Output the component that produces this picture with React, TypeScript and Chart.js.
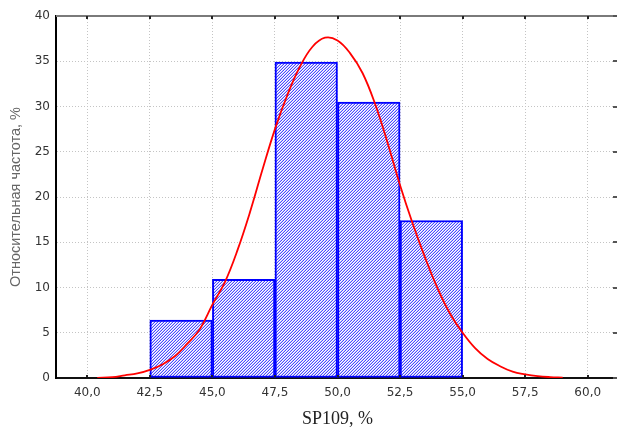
import React, { useEffect, useRef } from "react";
import { Chart, registerables } from "chart.js";

Chart.register(...registerables);

// Histogram bins (centers of 2.5-wide classes) and relative frequencies, %
const binCenters = [43.75, 46.25, 48.75, 51.25, 53.75];
const frequencies = [6.4, 10.9, 34.9, 30.5, 17.4];

// Fitted normal curve
const curveX = [40.4, 41.0, 41.5, 42.0, 42.5, 43.0, 43.5, 44.0, 44.5, 45.0, 45.5, 46.0, 46.5, 47.0, 47.5, 48.0, 48.5, 49.0, 49.5, 50.0, 50.5, 51.0, 51.5, 52.0, 52.5, 53.0, 53.5, 54.0, 54.5, 55.0, 55.5, 56.0, 56.5, 57.0, 57.5, 58.0, 58.5, 59.0];
const curveY = [0.02, 0.1, 0.3, 0.5, 0.9, 1.5, 2.4, 3.8, 5.4, 8.1, 10.6, 14.1, 18.3, 23.0, 27.5, 31.3, 34.4, 36.6, 37.6, 37.3, 35.9, 33.7, 30.3, 26.0, 21.3, 17.1, 13.3, 9.9, 7.1, 5.0, 3.3, 2.1, 1.3, 0.7, 0.4, 0.2, 0.1, 0.05];

// Axis ticks
const xTicks = [40, 42.5, 45, 47.5, 50, 52.5, 55, 57.5, 60];
const yTicks = [0, 5, 10, 15, 20, 25, 30, 35, 40];

const xTitle = "SP109, %";
const yTitle = "Относительная частота, %";

function makeHatch(): CanvasPattern | string {
  const c = document.createElement("canvas");
  c.width = 3;
  c.height = 3;
  const g = c.getContext("2d");
  if (!g) return "#9a9aff";
  for (let y = 0; y < 3; y++) {
    for (let x = 0; x < 3; x++) {
      const k = (x + y) % 3;
      g.fillStyle = k === 2 ? "#4a4aff" : k === 1 ? "#c4c4ff" : "#ffffff";
      g.fillRect(x, y, 1, 1);
    }
  }
  return g.createPattern(c, "repeat") || "#9a9aff";
}

const framePlugin = {
  id: "frame",
  afterDraw(chart: any) {
    const { ctx, chartArea, scales } = chart;
    const xs = scales.x;
    const ys = scales.y;
    ctx.save();
    // top border
    ctx.strokeStyle = "#7a7a7a";
    ctx.lineWidth = 2;
    ctx.beginPath();
    ctx.moveTo(chartArea.left, chartArea.top);
    ctx.lineTo(chartArea.right, chartArea.top);
    ctx.stroke();
    // inward tick marks
    ctx.fillStyle = "#222";
    for (const v of xTicks) {
      const px = Math.round(xs.getPixelForValue(v));
      ctx.fillRect(px - 1, chartArea.top, 2, 3);
      ctx.fillRect(px - 1, chartArea.bottom - 3, 2, 2);
    }
    ctx.fillStyle = "#555";
    for (const v of yTicks) {
      const py = Math.round(ys.getPixelForValue(v));
      ctx.fillRect(613, py - 1, 4, 2);
    }
    ctx.restore();
  },
};

export default function App() {
  const ref = useRef<HTMLCanvasElement | null>(null);

  useEffect(() => {
    if (!ref.current) return;
    const hatch = makeHatch();
    const tickFont = { family: "'DejaVu Sans', Verdana, sans-serif", size: 12 };
    const chart = new Chart(ref.current, {
      type: "bar",
      data: {
        datasets: [
          {
            type: "line",
            data: curveX.map((x, i) => ({ x, y: curveY[i] })),
            borderColor: "#ff0000",
            borderWidth: 1.8,
            pointRadius: 0,
            tension: 0.4,
            fill: false,
            order: 0,
          } as any,
          {
            type: "bar",
            data: binCenters.map((x, i) => ({ x, y: frequencies[i] })),
            backgroundColor: hatch as any,
            borderColor: "#0000ff",
            borderWidth: 2,
            borderSkipped: false,
            barPercentage: 1,
            categoryPercentage: 1,
            order: 1,
          } as any,
        ],
      },
      options: {
        animation: false,
        responsive: false,
        maintainAspectRatio: false,
        layout: { padding: { top: 16, left: 0, right: 0, bottom: 0 } },
        plugins: {
          legend: { display: false },
          tooltip: { enabled: false },
        },
        scales: {
          x: {
            type: "linear",
            min: 38.75,
            max: 61.25,
            offset: false,
            afterBuildTicks: (scale: any) => {
              scale.ticks = xTicks.map((v) => ({ value: v }));
            },
            afterFit: (scale: any) => {
              scale.height = 54;
            },
            grid: {
              offset: false,
              color: "#c4c4c4",
              lineWidth: 1,
              drawTicks: false,
            },
            border: { display: true, color: "#111", width: 2, dash: [1, 2] },
            ticks: {
              padding: 8,
              color: "#333",
              font: tickFont,
              callback: (v: any) => Number(v).toFixed(1).replace(".", ","),
              maxRotation: 0,
              autoSkip: false,
            },
            title: {
              display: true,
              text: xTitle,
              color: "#222",
              font: { family: "'Liberation Serif', 'Times New Roman', serif", size: 18 },
              padding: { top: 0, bottom: 2 },
            },
          },
          y: {
            type: "linear",
            min: 0,
            max: 40,
            afterBuildTicks: (scale: any) => {
              scale.ticks = yTicks.map((v) => ({ value: v }));
            },
            afterFit: (scale: any) => {
              scale.width = 56;
            },
            grid: {
              color: "#c4c4c4",
              lineWidth: 1,
              drawTicks: false,
            },
            border: { display: true, color: "#000", width: 2, dash: [1, 2] },
            ticks: {
              padding: 6,
              color: "#333",
              font: tickFont,
              callback: (v: any) => String(v),
            },
            title: {
              display: true,
              text: yTitle,
              color: "#666",
              font: { family: "'Liberation Sans', Arial, sans-serif", size: 14.5 },
              padding: { top: 7, bottom: 0 },
            },
          },
        },
      },
      plugins: [framePlugin],
    });
    return () => chart.destroy();
  }, []);

  return (
    <div
      style={{
        position: "absolute",
        left: 0,
        top: 0,
        width: 617,
        height: 432,
        overflow: "hidden",
        background: "#fff",
      }}
    >
      <canvas ref={ref} width={619} height={432} style={{ display: "block", width: 619, height: 432 }} />
    </div>
  );
}
